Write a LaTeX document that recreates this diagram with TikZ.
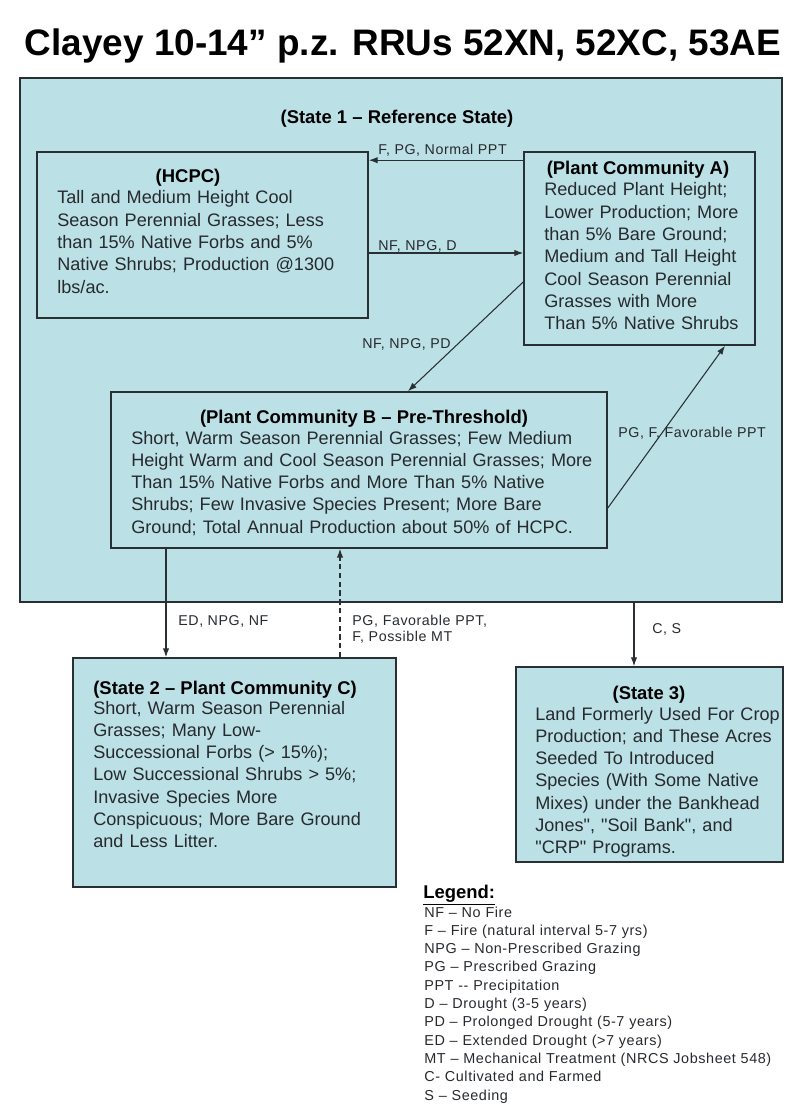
\documentclass[tikz,border=0pt]{standalone}
\usepackage{fontspec}
\setmainfont{Liberation Sans}
\newfontfamily\lblfont[LetterSpace=4, Ligatures=TeX]{Liberation Sans}
\usepackage{tikz}
\usetikzlibrary{arrows.meta}
\newcommand{\pxu}{0.02cm}
\newcommand{\dq}{\textquotedbl}
\definecolor{boxC}{RGB}{187,224,229}
\definecolor{lineC}{RGB}{40,48,52}
\definecolor{textC}{RGB}{38,42,46}
\tikzstyle{box}=[rectangle, draw=lineC, fill=boxC, line width=0.9pt, inner sep=0pt]
\tikzstyle{edge}=[draw=lineC, line width=0.6pt, ->, >={Latex[length=5pt, width=3.6pt]}]
\tikzstyle{ttl}=[anchor=base, inner sep=0pt, font=\bfseries\fontsize{10.5}{12.7}\selectfont]
\tikzstyle{body}=[anchor=base west, inner sep=0pt, text width=10cm, align=left, text=textC, font=\fontsize{10.3}{12.7}\selectfont]
\tikzstyle{lbl}=[anchor=base west, inner sep=0pt, text=textC, font=\lblfont\fontsize{8.1}{9.6}\selectfont]

\begin{document}
\begin{tikzpicture}[x=\pxu, y=-\pxu]
      \useasboundingbox (0, 0) rectangle (800, 1118);
      \node(head) [anchor=base, inner sep=0pt, font=\bfseries\fontsize{21}{24}\selectfont] at (403, 56){Clayey 10-14” p.z. RRUs 52XN, 52XC, 53AE};
      % boxes
      \node(st1) [box, minimum width=762*\pxu, minimum height=524*\pxu] at (401, 340){};
      \node(hcpc) [box, minimum width=331*\pxu, minimum height=166*\pxu] at (202.5, 235){};
      \node(pca) [box, minimum width=231*\pxu, minimum height=193*\pxu] at (639.5, 248.5){};
      \node(pcb) [box, minimum width=496*\pxu, minimum height=156*\pxu] at (359, 470){};
      \node(st2) [box, minimum width=323*\pxu, minimum height=229*\pxu] at (234.5, 772.5){};
      \node(st3) [box, minimum width=267*\pxu, minimum height=195*\pxu] at (649.5, 764.5){};
      % box texts
      \node(st1t) [ttl] at (397, 124){(State 1 -- Reference State)};
      \node(hcpct) [ttl] at (188, 183){(HCPC)};
      \node(hcpcb) [body] at (57, 204){Tall and Medium Height Cool\\ Season Perennial Grasses; Less\\ than 15\% Native Forbs and 5\%\\ Native Shrubs; Production @1300\\ lbs/ac.};
      \node(pcat) [ttl] at (638, 175){(Plant Community A)};
      \node(pcab) [body] at (544, 196){Reduced Plant Height;\\ Lower Production; More\\ than 5\% Bare Ground;\\ Medium and Tall Height\\ Cool Season Perennial\\ Grasses with More\\ Than 5\% Native Shrubs};
      \node(pcbt) [ttl] at (364, 423){(Plant Community B -- Pre-Threshold)};
      \node(pcbb) [body] at (131, 444){Short, Warm Season Perennial Grasses; Few Medium\\ Height Warm and Cool Season Perennial Grasses; More\\ Than 15\% Native Forbs and More Than 5\% Native\\ Shrubs; Few Invasive Species Present; More Bare\\ Ground; Total Annual Production about 50\% of HCPC.};
      \node(st2t) [ttl, anchor=base west] at (93, 694){(State 2 -- Plant Community C)};
      \node(st2b) [body] at (93, 714){Short, Warm Season Perennial\\ Grasses; Many Low-\\ Successional Forbs (> 15\%);\\ Low Successional Shrubs > 5\%;\\ Invasive Species More\\ Conspicuous; More Bare Ground\\ and Less Litter.};
      \node(st3t) [ttl] at (649, 699){(State 3)};
      \node(st3b) [body] at (535, 720){Land Formerly Used For Crop\\ Production; and These Acres\\ Seeded To Introduced\\ Species (With Some Native\\ Mixes) under the Bankhead\\ Jones\dq, \dq Soil Bank\dq, and\\ \dq CRP\dq{} Programs.};
      % transitions
      \draw[edge] ([yshift=-9*\pxu]pca.north west) coordinate (a1) -- (a1 -| hcpc.east);
      \draw[edge] ([yshift=-18*\pxu]hcpc.east) coordinate (h1) -- (h1 -| pca.west);
      \draw[edge] ([yshift=-33.5*\pxu]pca.west) -- ([xshift=49*\pxu]pcb.north);
      \draw[edge] ([yshift=-38*\pxu]pcb.east) -- ([xshift=85.5*\pxu]pca.south);
      \draw[edge] ([xshift=-193*\pxu]pcb.south) coordinate (b1) -- (b1 |- st2.north);
      \draw[edge, dash pattern=on 3pt off 2pt] ([xshift=105.5*\pxu]st2.north) coordinate (c1) -- (c1 |- pcb.south);
      \draw[edge] ([xshift=233*\pxu]st1.south) coordinate (s1) -- (s1 |- st3.north);
      \node(l1) [lbl] at (378, 155){F, PG, Normal PPT};
      \node(l2) [lbl] at (378, 251){NF, NPG, D};
      \node(l3) [lbl] at (362, 348){NF, NPG, PD};
      \node(l4) [lbl] at (618, 437){PG, F, Favorable PPT};
      \node(l5) [lbl] at (178, 625){ED, NPG, NF};
      \node(l6) [lbl, text width=3cm, align=left] at (352, 625){PG, Favorable PPT,\\ F, Possible MT};
      \node(l7) [lbl] at (652, 633){C, S};
      % legend
      \node(legt) [anchor=base west, inner sep=0pt, font=\bfseries\fontsize{10.5}{12}\selectfont] at (423, 898){\underline{Legend:}};
      \node(legb) [lbl, text width=7cm, align=left, font=\lblfont\fontsize{8.2}{10.43}\selectfont] at (424, 917){NF -- No Fire\\ F -- Fire (natural interval 5-7 yrs)\\ NPG -- Non-Prescribed Grazing\\ PG -- Prescribed Grazing\\ PPT -{}- Precipitation\\ D -- Drought (3-5 years)\\ PD -- Prolonged Drought (5-7 years)\\ ED -- Extended Drought (>7 years)\\ MT -- Mechanical Treatment (NRCS Jobsheet 548)\\ C- Cultivated and Farmed\\ S -- Seeding};
\end{tikzpicture}
\end{document}
